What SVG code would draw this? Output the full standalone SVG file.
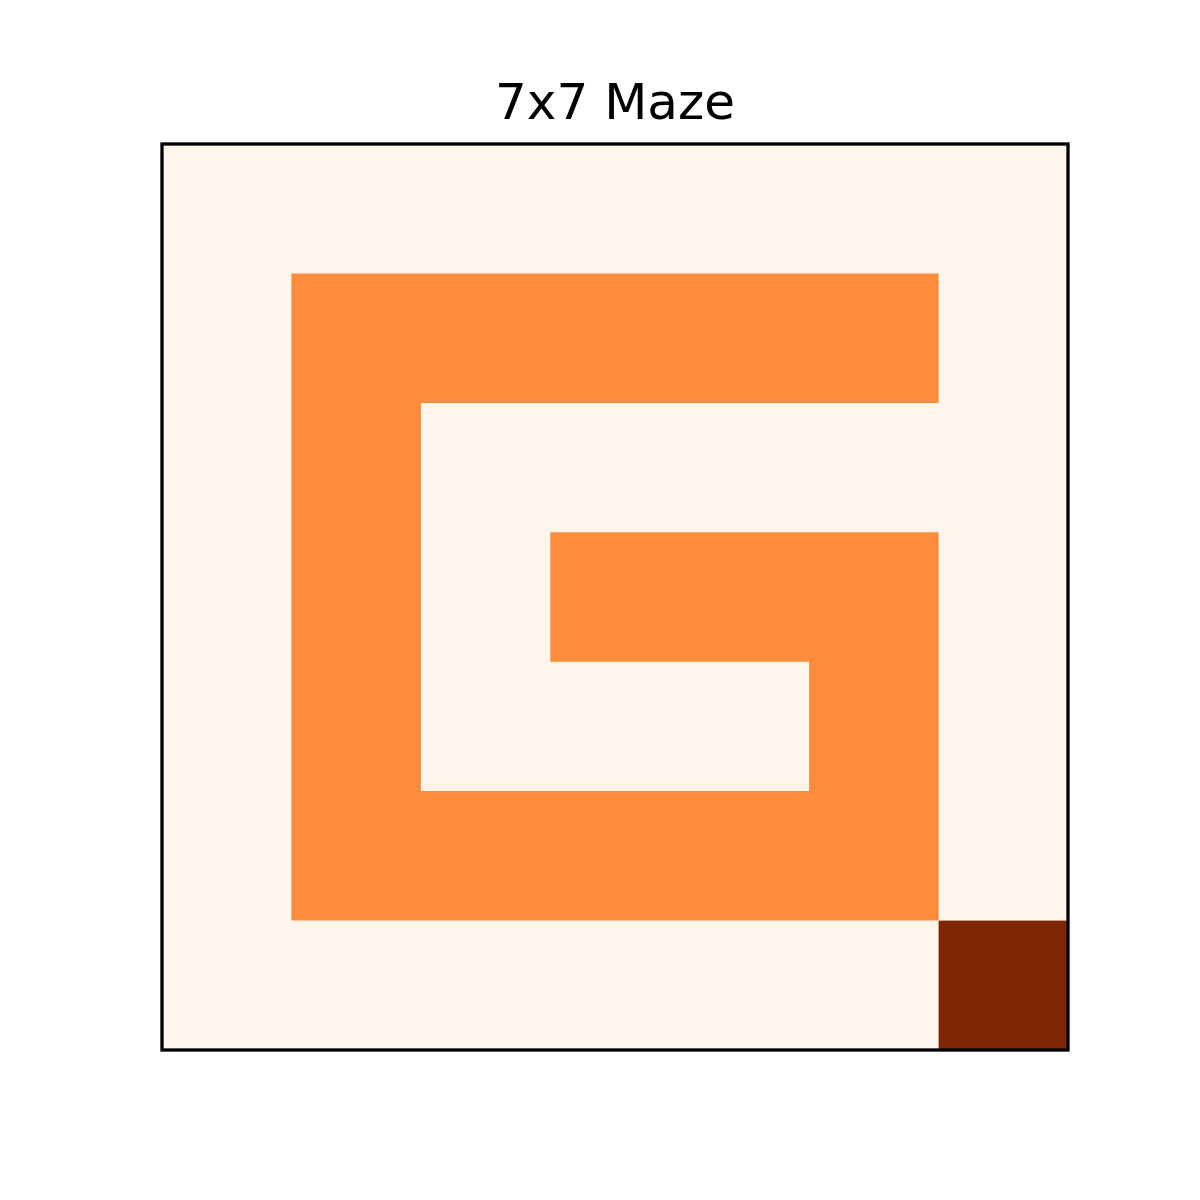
<svg xmlns="http://www.w3.org/2000/svg" width="1200" height="1200" viewBox="0 0 1200 1200">
<style>
.free{fill:#fff5eb}
.wall{fill:#fd8d3c}
.goal{fill:#7f2704}
</style>
<rect width="1200" height="1200" fill="#ffffff"/>
<rect class="free" x="162" y="144" width="906" height="906"/>
<path id="walls" class="wall" d="M291.4,273.4 H938.6 V402.9 H420.9 V791.1 H809.1 V661.7 H550.3 V532.3 H938.6 V920.6 H291.4 Z"/>
<rect id="goal" class="goal" x="938.6" y="920.6" width="129.4" height="129.4"/>
<rect x="162" y="144" width="906" height="906" fill="none" stroke="#000000" stroke-width="3.3"/>
<text x="615" y="119" text-anchor="middle" font-family="DejaVu Sans, sans-serif" font-size="50" fill="#000000">7x7 Maze</text>
</svg>
